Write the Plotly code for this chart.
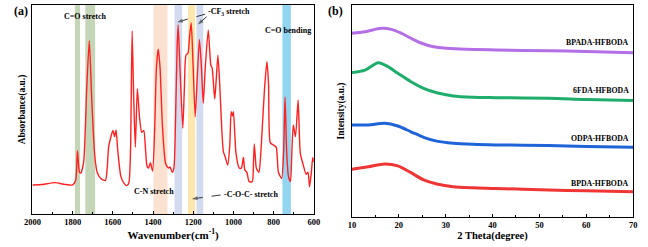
import plotly.graph_objects as go

# ---------------- FTIR data (panel a) ----------------
wavenumber = [2000, 1950, 1890, 1840, 1800, 1785, 1776, 1766, 1759, 1745, 1730, 1717, 1705, 1690,
              1678, 1660, 1637, 1628, 1621, 1612, 1600, 1591, 1584, 1575, 1560, 1545, 1530, 1520,
              1512, 1504, 1496, 1488, 1478, 1467, 1456, 1446, 1438, 1430, 1422, 1413, 1402, 1392,
              1383, 1374, 1365, 1353, 1337, 1323, 1316, 1304, 1296, 1288, 1280, 1275, 1268, 1252,
              1244, 1236, 1226, 1218, 1210, 1202, 1190, 1180, 1169, 1160, 1150, 1140, 1125, 1112,
              1106, 1093, 1085, 1077, 1068, 1060, 1050, 1040, 1028, 1018, 1011, 1005, 1000, 993,
              987, 971, 960, 950, 943, 933, 922, 906, 900, 896, 890, 886, 873, 865, 857, 845, 833,
              825, 816, 800, 787, 776, 760, 750, 743, 735, 726, 716, 709, 702, 691, 678, 667, 654,
              638, 629, 621, 612, 605, 600]
absorbance = [0.139, 0.141, 0.150, 0.142, 0.139, 0.16, 0.303, 0.20, 0.196, 0.25, 0.60, 0.829, 0.55, 0.28,
              0.20, 0.17, 0.160, 0.22, 0.32, 0.36, 0.40, 0.37, 0.402, 0.30, 0.18, 0.148, 0.136, 0.150,
              0.30, 0.877, 0.55, 0.32, 0.60, 0.46, 0.39, 0.40, 0.32, 0.23, 0.22, 0.245, 0.205, 0.40,
              0.70, 0.788, 0.70, 0.42, 0.24, 0.22, 0.225, 0.20, 0.22, 0.45, 0.80, 0.904, 0.75, 0.41,
              0.60, 0.76, 0.77, 0.85, 0.915, 0.75, 0.465, 0.65, 0.835, 0.72, 0.53, 0.70, 0.88, 0.71,
              0.70, 0.55, 0.65, 0.76, 0.62, 0.45, 0.30, 0.27, 0.234, 0.33, 0.49, 0.47, 0.49, 0.38,
              0.29, 0.22, 0.22, 0.27, 0.21, 0.20, 0.155, 0.155, 0.25, 0.335, 0.26, 0.22, 0.20, 0.27, 0.40, 0.60, 0.73,
              0.62, 0.34, 0.33, 0.32, 0.20, 0.17, 0.30, 0.56, 0.30, 0.18, 0.155, 0.30, 0.426, 0.37, 0.545, 0.29, 0.24,
              0.19, 0.20, 0.13, 0.20, 0.27, 0.25]

# highlighted bands (wavenumber ranges) and colours
band_lo = [1763, 1688, 1328, 1255, 1190, 1150, 714]
band_hi = [1789, 1737, 1398, 1293, 1226, 1184, 756]
band_colors = ["rgba(150,180,125,0.55)", "rgba(150,180,125,0.55)", "rgba(248,200,170,0.55)",
               "rgba(175,190,230,0.55)", "rgba(253,215,120,0.6)", "rgba(175,190,230,0.55)",
               "rgba(100,195,235,0.7)"]

ir_ticks = [2000, 1800, 1600, 1400, 1200, 1000, 800, 600]

# ---------------- XRD data (panel b) ----------------
theta_bpada = [10, 12.8, 16.3, 18.4, 20.5, 22.6, 24.6, 27.4, 30.2, 34.4, 40.6, 52, 60, 70]
int_bpada = [0.867, 0.874, 0.890, 0.885, 0.867, 0.843, 0.822, 0.803, 0.796, 0.791, 0.788, 0.784, 0.781, 0.775]
theta_6fda = [10, 12.8, 15.6, 17.7, 19.8, 22.6, 25.3, 28.1, 31.6, 35.8, 40.6, 52, 60, 70]
int_6fda = [0.681, 0.693, 0.728, 0.709, 0.678, 0.638, 0.607, 0.586, 0.571, 0.565, 0.563, 0.560, 0.554, 0.549]
theta_odpa = [10, 13.5, 17, 19.8, 22.6, 25.3, 28.1, 31.6, 35.8, 40.6, 52, 60, 70]
int_odpa = [0.434, 0.434, 0.442, 0.429, 0.402, 0.376, 0.358, 0.348, 0.343, 0.340, 0.337, 0.333, 0.329]
theta_bpda = [10, 13.5, 17, 19.8, 22.6, 25.3, 28.1, 31.6, 35.8, 40.6, 52, 60, 70]
int_bpda = [0.225, 0.237, 0.250, 0.241, 0.209, 0.175, 0.156, 0.143, 0.138, 0.135, 0.127, 0.124, 0.119]

xrd_names = ["BPADA-HFBODA", "6FDA-HFBODA", "ODPA-HFBODA", "BPDA-HFBODA"]
xrd_colors = ["#b46fe6", "#1fad6c", "#1f63d8", "#f03535"]
xrd_label_y = [0.825, 0.595, 0.368, 0.160]

FONT = "Liberation Serif"

fig = go.Figure()

fig.add_trace(go.Scatter(x=wavenumber, y=absorbance, mode="lines",
                         line=dict(color="#ff2020", width=1.4, shape="spline", smoothing=0.6),
                         xaxis="x", yaxis="y", showlegend=False, hoverinfo="skip"))

xrd_x = [theta_bpada, theta_6fda, theta_odpa, theta_bpda]
xrd_y = [int_bpada, int_6fda, int_odpa, int_bpda]
for tx, ty, c in zip(xrd_x, xrd_y, xrd_colors):
    fig.add_trace(go.Scatter(x=tx, y=ty, mode="lines",
                             line=dict(color=c, width=3, shape="spline", smoothing=0.8),
                             xaxis="x2", yaxis="y2", showlegend=False, hoverinfo="skip"))

shapes = []
for lo, hi, c in zip(band_lo, band_hi, band_colors):
    shapes.append(dict(type="rect", xref="x", yref="y domain", x0=lo, x1=hi, y0=0, y1=1,
                       fillcolor=c, line=dict(width=0), layer="below"))

# dashed arrows (tail -> head), drawn as lines with an arrow marker at the head
arrow_lines = [((1141, 0.956), (1280, 0.918)), ((1133, 0.944), (1177, 0.907)),
               ((1064, 0.091), (1207, 0.072))]
for (x0, y0), (x1, y1) in arrow_lines:
    fig.add_trace(go.Scatter(x=[x0, x1], y=[y0, y1], mode="lines+markers",
                             line=dict(color="#333333", width=1, dash="dash"),
                             marker=dict(symbol=["circle", "arrow"], size=[0.1, 6], color="#333333",
                                         angleref="previous", line=dict(width=0)),
                             xaxis="x", yaxis="y", showlegend=False, hoverinfo="skip"))

annotations = []
tf = dict(family=FONT, size=8, color="black")
annotations.append(dict(x=1737, y=0.947, xref="x", yref="y", text="<b>C=O stretch</b>",
                        showarrow=False, font=tf))
annotations.append(dict(x=1134, y=0.965, xref="x", yref="y", text="<b>-CF<sub>3</sub> stretch</b>",
                        showarrow=False, xanchor="left", font=tf))
annotations.append(dict(x=729, y=0.877, xref="x", yref="y", text="<b>C=O bending</b>",
                        showarrow=False, font=tf))
annotations.append(dict(x=1394, y=0.107, xref="x", yref="y", text="<b>C-N stretch</b>",
                        showarrow=False, font=tf))
annotations.append(dict(x=1058, y=0.091, xref="x", yref="y", text="<b>-C-O-C- stretch</b>",
                        showarrow=False, xanchor="left", font=tf))

for name, ly in zip(xrd_names, xrd_label_y):
    annotations.append(dict(x=69.6, y=ly, xref="x2", yref="y2", text="<b>" + name + "</b>",
                            showarrow=False, xanchor="right", font=dict(family=FONT, size=7.8, color="black")))

annotations.append(dict(x=0.004, y=0.99, xref="paper", yref="paper", text="<b>(a)</b>",
                        showarrow=False, xanchor="left", yanchor="top",
                        font=dict(family=FONT, size=12, color="black")))
annotations.append(dict(x=0.5, y=0.99, xref="paper", yref="paper", text="<b>(b)</b>",
                        showarrow=False, xanchor="left", yanchor="top",
                        font=dict(family=FONT, size=12, color="black")))

axis_common = dict(showline=True, linecolor="black", linewidth=1, mirror=True, showgrid=False,
                   zeroline=False)

fig.update_layout(
    width=648, height=247,
    margin=dict(l=0, r=0, t=0, b=0),
    paper_bgcolor="white", plot_bgcolor="white",
    shapes=shapes, annotations=annotations,
    xaxis=dict(domain=[24 / 648, 312 / 648], range=[2000, 600], anchor="y",
               tickvals=ir_ticks, ticktext=["<b>%d</b>" % t for t in ir_ticks],
               ticks="inside", ticklen=3, tickcolor="black",
               minor=dict(dtick=100, ticks="inside", ticklen=2, tickcolor="black"),
               tickfont=dict(family=FONT, size=8.5, color="black"),
               title=dict(text="<b>Wavenumber(cm<sup>-1</sup>)</b>", standoff=1,
                          font=dict(family=FONT, size=11, color="black")),
               **axis_common),
    yaxis=dict(domain=[1 - 214 / 247, 1 - 5 / 247], range=[0, 1], anchor="x",
               showticklabels=False, ticks="",
               title=dict(text="<b>Absorbance(a.u.)</b>", standoff=4,
                          font=dict(family=FONT, size=9.5, color="black")),
               **axis_common),
    xaxis2=dict(domain=[351 / 648, 639 / 648], range=[10, 70], anchor="y2",
                tickvals=[10, 20, 30, 40, 50, 60, 70],
                ticktext=["<b>%d</b>" % t for t in [10, 20, 30, 40, 50, 60, 70]],
                ticks="inside", ticklen=3, tickcolor="black",
                minor=dict(dtick=5, ticks="inside", ticklen=2, tickcolor="black"),
                tickfont=dict(family=FONT, size=8.5, color="black"),
                title=dict(text="<b>2 Theta(degree)</b>", standoff=1,
                           font=dict(family=FONT, size=10.5, color="black")),
                **axis_common),
    yaxis2=dict(domain=[1 - 217 / 247, 1 - 5 / 247], range=[0, 1], anchor="x2",
                showticklabels=False, ticks="",
                title=dict(text="<b>Intensity(a.u.)</b>", standoff=4,
                           font=dict(family=FONT, size=9.5, color="black")),
                **axis_common),
)

fig.write_html("out.html", config={"displayModeBar": False},
               post_script="document.body.style.margin='0';document.body.style.overflow='hidden';")
